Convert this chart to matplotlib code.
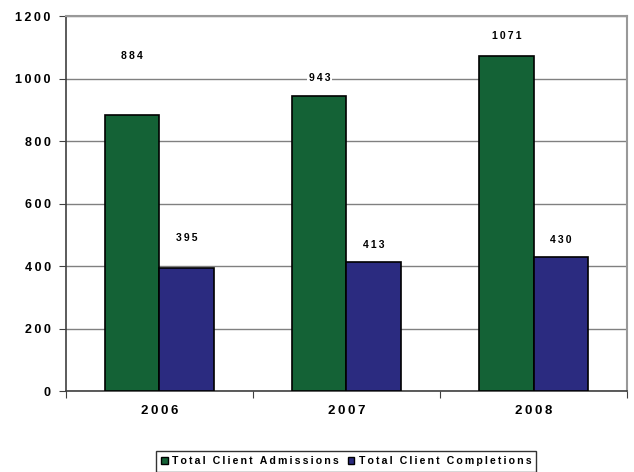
import matplotlib
matplotlib.use("Agg")
import matplotlib.pyplot as plt
import numpy as np
from matplotlib.patches import Patch

plt.rcParams['font.family'] = ['Liberation Sans', 'DejaVu Sans']

years = ["2006", "2007", "2008"]
admissions = [884, 943, 1071]
completions = [395, 413, 430]
series_names = ["Total Client Admissions", "Total Client Completions"]
yticks = [0, 200, 400, 600, 800, 1000, 1200]

# label offsets above bar tops (data units), as placed in the original chart
adm_label_offset = [188, 59, 65]
comp_label_offset = [95, 54, 53]

green = "#146236"
blue = "#2B2B80"


def spaced(s):
    return "\u2009".join(list(s))


fig = plt.figure(figsize=(6.34, 4.72), dpi=100)
ax = fig.add_axes([0.104, 0.1716, 0.885, 0.7945])

x = np.arange(len(years))
w = 0.29
b1 = ax.bar(x - w/2, admissions, w, color=green, edgecolor="black", linewidth=1.2, zorder=3)
b2 = ax.bar(x + w/2, completions, w, color=blue, edgecolor="black", linewidth=1.2, zorder=3)

for bars, vals, offs in ((b1, admissions, adm_label_offset), (b2, completions, comp_label_offset)):
    for rect, v, o in zip(bars, vals, offs):
        ax.text(rect.get_x() + rect.get_width()/2, v + o, spaced(str(v)), ha="center", va="center",
                fontsize=7.5, fontweight="bold", zorder=4,
                bbox=dict(facecolor="white", edgecolor="none", pad=1.5))

ax.set_xlim(-0.5, 2.5)
ax.set_ylim(0, 1200)
ax.set_yticks(yticks)
ax.set_yticklabels([spaced(str(t)) for t in yticks], fontsize=9, fontweight="bold")
ax.set_xticks([-0.5, 0.5, 1.5, 2.5])
ax.set_xticklabels([])
ax.tick_params(axis="x", length=5, color="#404040", direction="out")
for xi, yr in zip(x, years):
    ax.text(xi, -0.053, spaced(yr), transform=ax.get_xaxis_transform(), ha="center", va="center",
            fontsize=9.5, fontweight="bold")
ax.tick_params(axis="y", length=5, color="#404040", pad=6)

ax.grid(axis="y", color="#808080", linewidth=1.0, zorder=0)
ax.spines["top"].set_color("#999999")
ax.spines["right"].set_color("#999999")
ax.spines["top"].set_linewidth(1.5)
ax.spines["right"].set_linewidth(1.5)
ax.spines["left"].set_color("#404040")
ax.spines["bottom"].set_color("#404040")
ax.spines["left"].set_linewidth(1.2)
ax.spines["bottom"].set_linewidth(1.2)

handles = [Patch(facecolor=green, edgecolor="black"), Patch(facecolor=blue, edgecolor="black")]
leg = fig.legend(handles, [spaced(s) for s in series_names], loc="lower center",
                 bbox_to_anchor=(0.546, -0.004),
                 ncol=2, frameon=True, fancybox=False, edgecolor="black",
                 prop=dict(size=7.6, weight="bold"), handlelength=0.6, handleheight=0.6,
                 handletextpad=0.4, columnspacing=0.9, borderpad=0.5, borderaxespad=0.2)
leg.get_frame().set_linewidth(1.0)

fig.savefig("out.png", dpi=100)
